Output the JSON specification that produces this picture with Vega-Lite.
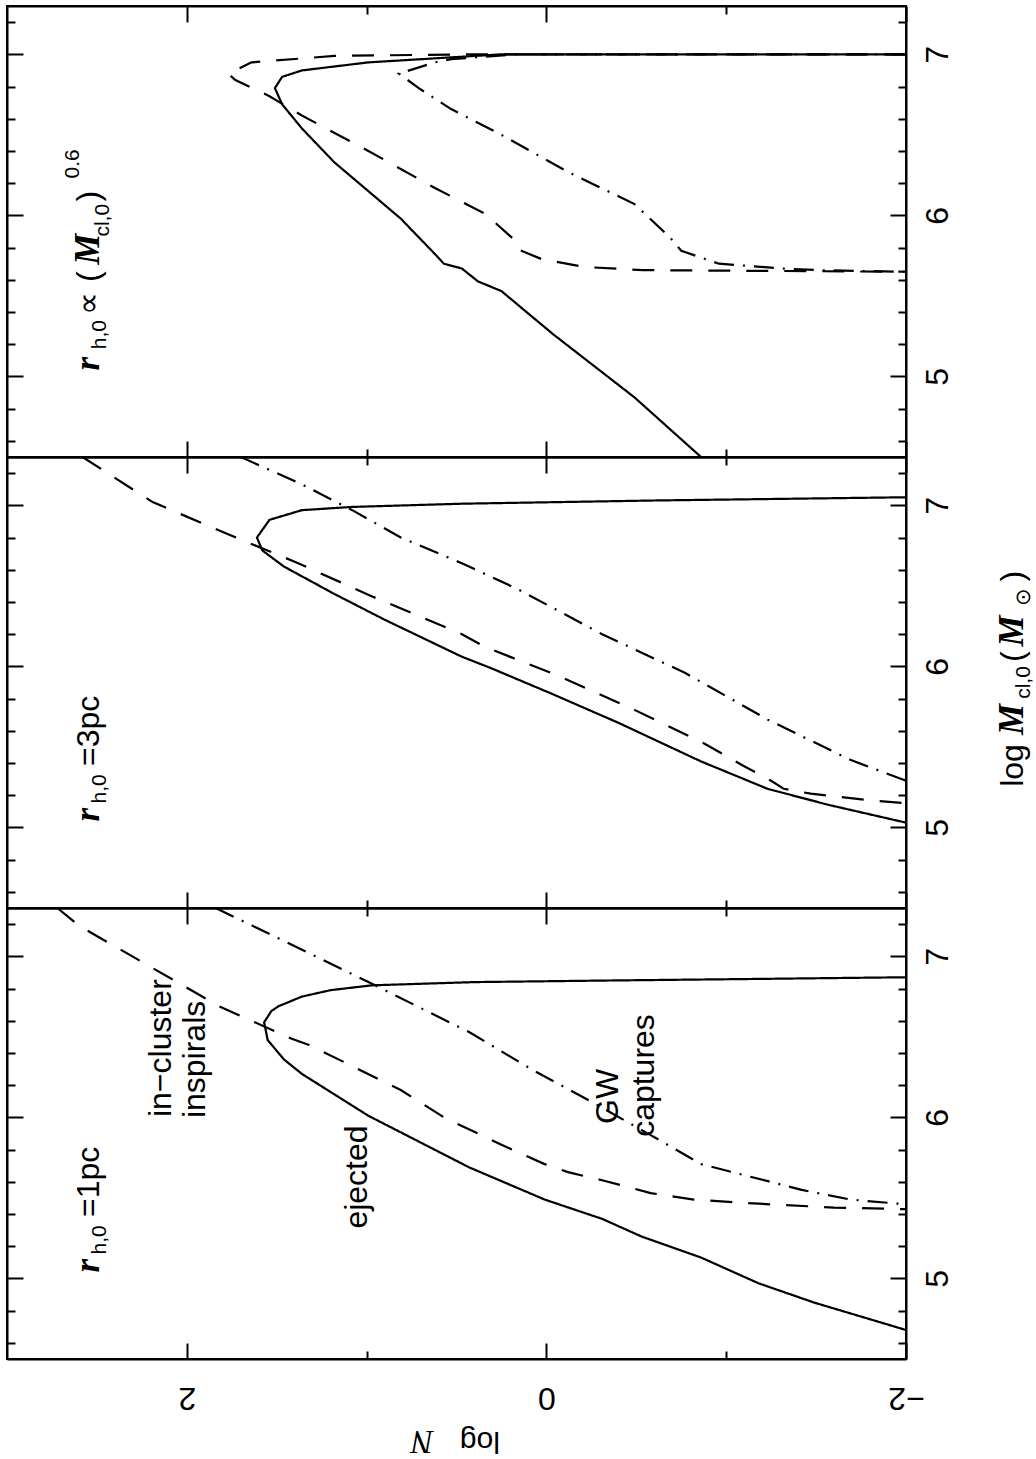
{
  "$schema": "https://vega.github.io/schema/vega-lite/v6.json",
  "background": "white",
  "padding": {"left": 5, "top": 4, "right": 0, "bottom": 0},
  "spacing": 0,
  "bounds": "flush",
  "config": {
    "view": {"stroke": "black", "strokeWidth": 2},
    "axis": {"domainColor": "black", "domainWidth": 2, "tickColor": "black", "tickWidth": 2, "grid": false, "labelColor": "black", "labelFont": "Liberation Sans", "labelFontSize": 32, "zindex": 1},
    "text": {"color": "black"}
  },
  "datasets": {
    "curves": [
      {"p":"bot","s":"solid","i":0,"N":-2,"M":4.68},{"p":"bot","s":"solid","i":1,"N":-1.49,"M":4.85},{"p":"bot","s":"solid","i":2,"N":-1.18,"M":4.97},{"p":"bot","s":"solid","i":3,"N":-0.86,"M":5.13},{"p":"bot","s":"solid","i":4,"N":-0.53,"M":5.26},{"p":"bot","s":"solid","i":5,"N":-0.31,"M":5.37},{"p":"bot","s":"solid","i":6,"N":0.01,"M":5.49},{"p":"bot","s":"solid","i":7,"N":0.43,"M":5.69},{"p":"bot","s":"solid","i":8,"N":0.99,"M":6.01},{"p":"bot","s":"solid","i":9,"N":1.36,"M":6.27},{"p":"bot","s":"solid","i":10,"N":1.46,"M":6.36},{"p":"bot","s":"solid","i":11,"N":1.55,"M":6.48},{"p":"bot","s":"solid","i":12,"N":1.57,"M":6.59},{"p":"bot","s":"solid","i":13,"N":1.53,"M":6.66},{"p":"bot","s":"solid","i":14,"N":1.49,"M":6.69},{"p":"bot","s":"solid","i":15,"N":1.36,"M":6.75},{"p":"bot","s":"solid","i":16,"N":1.2,"M":6.79},{"p":"bot","s":"solid","i":17,"N":0.97,"M":6.82},{"p":"bot","s":"solid","i":18,"N":0.4,"M":6.84},{"p":"bot","s":"solid","i":19,"N":-0.36,"M":6.85},{"p":"bot","s":"solid","i":20,"N":-1.2,"M":6.86},{"p":"bot","s":"solid","i":21,"N":-2,"M":6.87},
      {"p":"bot","s":"dashed","i":0,"N":2.72,"M":7.3},{"p":"bot","s":"dashed","i":1,"N":2.6,"M":7.19},{"p":"bot","s":"dashed","i":2,"N":2.21,"M":6.94},{"p":"bot","s":"dashed","i":3,"N":1.82,"M":6.69},{"p":"bot","s":"dashed","i":4,"N":1.42,"M":6.49},{"p":"bot","s":"dashed","i":5,"N":1.32,"M":6.45},{"p":"bot","s":"dashed","i":6,"N":0.81,"M":6.17},{"p":"bot","s":"dashed","i":7,"N":0.57,"M":6.0},{"p":"bot","s":"dashed","i":8,"N":0.25,"M":5.83},{"p":"bot","s":"dashed","i":9,"N":0.01,"M":5.71},{"p":"bot","s":"dashed","i":10,"N":-0.12,"M":5.66},{"p":"bot","s":"dashed","i":11,"N":-0.31,"M":5.61},{"p":"bot","s":"dashed","i":12,"N":-0.58,"M":5.53},{"p":"bot","s":"dashed","i":13,"N":-0.82,"M":5.49},{"p":"bot","s":"dashed","i":14,"N":-1.08,"M":5.47},{"p":"bot","s":"dashed","i":15,"N":-1.6,"M":5.44},{"p":"bot","s":"dashed","i":16,"N":-2,"M":5.43},
      {"p":"bot","s":"dashdot","i":0,"N":1.84,"M":7.3},{"p":"bot","s":"dashdot","i":1,"N":1.32,"M":7.02},{"p":"bot","s":"dashdot","i":2,"N":0.99,"M":6.84},{"p":"bot","s":"dashdot","i":3,"N":0.43,"M":6.53},{"p":"bot","s":"dashdot","i":4,"N":0.07,"M":6.29},{"p":"bot","s":"dashdot","i":5,"N":-0.23,"M":6.11},{"p":"bot","s":"dashdot","i":6,"N":-0.58,"M":5.89},{"p":"bot","s":"dashdot","i":7,"N":-0.86,"M":5.71},{"p":"bot","s":"dashdot","i":8,"N":-1.14,"M":5.63},{"p":"bot","s":"dashdot","i":9,"N":-1.42,"M":5.55},{"p":"bot","s":"dashdot","i":10,"N":-1.69,"M":5.49},{"p":"bot","s":"dashdot","i":11,"N":-2,"M":5.46},
      {"p":"mid","s":"solid","i":0,"N":-2,"M":5.03},{"p":"mid","s":"solid","i":1,"N":-1.57,"M":5.14},{"p":"mid","s":"solid","i":2,"N":-1.23,"M":5.24},{"p":"mid","s":"solid","i":3,"N":-0.86,"M":5.41},{"p":"mid","s":"solid","i":4,"N":-0.4,"M":5.65},{"p":"mid","s":"solid","i":5,"N":-0.03,"M":5.83},{"p":"mid","s":"solid","i":6,"N":0.31,"M":5.99},{"p":"mid","s":"solid","i":7,"N":0.47,"M":6.06},{"p":"mid","s":"solid","i":8,"N":0.9,"M":6.29},{"p":"mid","s":"solid","i":9,"N":1.18,"M":6.45},{"p":"mid","s":"solid","i":10,"N":1.46,"M":6.62},{"p":"mid","s":"solid","i":11,"N":1.58,"M":6.72},{"p":"mid","s":"solid","i":12,"N":1.61,"M":6.8},{"p":"mid","s":"solid","i":13,"N":1.54,"M":6.91},{"p":"mid","s":"solid","i":14,"N":1.36,"M":6.97},{"p":"mid","s":"solid","i":15,"N":1.08,"M":6.99},{"p":"mid","s":"solid","i":16,"N":0.47,"M":7.01},{"p":"mid","s":"solid","i":17,"N":-0.6,"M":7.03},{"p":"mid","s":"solid","i":18,"N":-2,"M":7.05},
      {"p":"mid","s":"dashed","i":0,"N":2.58,"M":7.3},{"p":"mid","s":"dashed","i":1,"N":2.19,"M":7.02},{"p":"mid","s":"dashed","i":2,"N":1.77,"M":6.82},{"p":"mid","s":"dashed","i":3,"N":1.4,"M":6.65},{"p":"mid","s":"dashed","i":4,"N":0.96,"M":6.43},{"p":"mid","s":"dashed","i":5,"N":0.47,"M":6.2},{"p":"mid","s":"dashed","i":6,"N":0.34,"M":6.12},{"p":"mid","s":"dashed","i":7,"N":-0.07,"M":5.94},{"p":"mid","s":"dashed","i":8,"N":-0.49,"M":5.73},{"p":"mid","s":"dashed","i":9,"N":-0.88,"M":5.52},{"p":"mid","s":"dashed","i":10,"N":-1.1,"M":5.38},{"p":"mid","s":"dashed","i":11,"N":-1.25,"M":5.29},{"p":"mid","s":"dashed","i":12,"N":-1.32,"M":5.24},{"p":"mid","s":"dashed","i":13,"N":-1.47,"M":5.21},{"p":"mid","s":"dashed","i":14,"N":-1.79,"M":5.17},{"p":"mid","s":"dashed","i":15,"N":-2,"M":5.15},
      {"p":"mid","s":"dashdot","i":0,"N":1.7,"M":7.3},{"p":"mid","s":"dashdot","i":1,"N":1.36,"M":7.13},{"p":"mid","s":"dashdot","i":2,"N":1.08,"M":6.97},{"p":"mid","s":"dashdot","i":3,"N":0.81,"M":6.8},{"p":"mid","s":"dashdot","i":4,"N":0.47,"M":6.64},{"p":"mid","s":"dashdot","i":5,"N":0.16,"M":6.48},{"p":"mid","s":"dashdot","i":6,"N":-0.31,"M":6.2},{"p":"mid","s":"dashdot","i":7,"N":-0.77,"M":5.96},{"p":"mid","s":"dashdot","i":8,"N":-1.23,"M":5.67},{"p":"mid","s":"dashdot","i":9,"N":-1.69,"M":5.42},{"p":"mid","s":"dashdot","i":10,"N":-2,"M":5.29},
      {"p":"top","s":"solid","i":0,"N":-0.86,"M":4.5},{"p":"top","s":"solid","i":1,"N":-0.49,"M":4.87},{"p":"top","s":"solid","i":2,"N":-0.04,"M":5.26},{"p":"top","s":"solid","i":3,"N":0.1,"M":5.39},{"p":"top","s":"solid","i":4,"N":0.25,"M":5.53},{"p":"top","s":"solid","i":5,"N":0.38,"M":5.59},{"p":"top","s":"solid","i":6,"N":0.47,"M":5.67},{"p":"top","s":"solid","i":7,"N":0.57,"M":5.7},{"p":"top","s":"solid","i":8,"N":0.62,"M":5.76},{"p":"top","s":"solid","i":9,"N":0.81,"M":5.98},{"p":"top","s":"solid","i":10,"N":1.18,"M":6.33},{"p":"top","s":"solid","i":11,"N":1.36,"M":6.54},{"p":"top","s":"solid","i":12,"N":1.47,"M":6.69},{"p":"top","s":"solid","i":13,"N":1.51,"M":6.79},{"p":"top","s":"solid","i":14,"N":1.47,"M":6.86},{"p":"top","s":"solid","i":15,"N":1.36,"M":6.9},{"p":"top","s":"solid","i":16,"N":0.99,"M":6.95},{"p":"top","s":"solid","i":17,"N":0.25,"M":7.0},{"p":"top","s":"solid","i":18,"N":-2,"M":7.0},
      {"p":"top","s":"dashed","i":0,"N":-2,"M":7.0},{"p":"top","s":"dashed","i":1,"N":0.43,"M":7.0},{"p":"top","s":"dashed","i":2,"N":1.18,"M":6.99},{"p":"top","s":"dashed","i":3,"N":1.64,"M":6.95},{"p":"top","s":"dashed","i":4,"N":1.77,"M":6.88},{"p":"top","s":"dashed","i":5,"N":1.73,"M":6.84},{"p":"top","s":"dashed","i":6,"N":1.54,"M":6.74},{"p":"top","s":"dashed","i":7,"N":1.36,"M":6.62},{"p":"top","s":"dashed","i":8,"N":0.99,"M":6.4},{"p":"top","s":"dashed","i":9,"N":0.62,"M":6.17},{"p":"top","s":"dashed","i":10,"N":0.34,"M":6.01},{"p":"top","s":"dashed","i":11,"N":0.19,"M":5.86},{"p":"top","s":"dashed","i":12,"N":0.16,"M":5.79},{"p":"top","s":"dashed","i":13,"N":0.03,"M":5.73},{"p":"top","s":"dashed","i":14,"N":-0.21,"M":5.68},{"p":"top","s":"dashed","i":15,"N":-0.54,"M":5.66},{"p":"top","s":"dashed","i":16,"N":-2,"M":5.65},
      {"p":"top","s":"dashdot","i":0,"N":-2,"M":7.0},{"p":"top","s":"dashdot","i":1,"N":0.16,"M":7.0},{"p":"top","s":"dashdot","i":2,"N":0.53,"M":6.97},{"p":"top","s":"dashdot","i":3,"N":0.62,"M":6.95},{"p":"top","s":"dashdot","i":4,"N":0.82,"M":6.88},{"p":"top","s":"dashdot","i":5,"N":0.71,"M":6.79},{"p":"top","s":"dashdot","i":6,"N":0.53,"M":6.66},{"p":"top","s":"dashdot","i":7,"N":0.25,"M":6.5},{"p":"top","s":"dashdot","i":8,"N":-0.12,"M":6.27},{"p":"top","s":"dashdot","i":9,"N":-0.49,"M":6.07},{"p":"top","s":"dashdot","i":10,"N":-0.69,"M":5.86},{"p":"top","s":"dashdot","i":11,"N":-0.75,"M":5.78},{"p":"top","s":"dashdot","i":12,"N":-0.96,"M":5.7},{"p":"top","s":"dashdot","i":13,"N":-1.32,"M":5.67},{"p":"top","s":"dashdot","i":14,"N":-1.51,"M":5.66},{"p":"top","s":"dashdot","i":15,"N":-2,"M":5.65}
    ],
    "words": [
      {"p":"bot","t":"ejected","N":1.0,"M":5.63},
      {"p":"bot","t":"in−cluster","N":2.09,"M":6.43},
      {"p":"bot","t":"inspirals","N":1.9,"M":6.36},
      {"p":"bot","t":"GW","N":-0.4,"M":6.13},
      {"p":"bot","t":"captures","N":-0.6,"M":6.26},
      {"p":"bot","t":"=1pc","N":2.49,"M":5.6},
      {"p":"mid","t":"=3pc","N":2.49,"M":5.6},
      {"p":"mid","t":"log","N":-2.65,"M":5.385},
      {"p":"mid","t":"(","N":-2.65,"M":6.06},
      {"p":"mid","t":")","N":-2.65,"M":6.56},
      {"p":"top","t":"∝","N":2.49,"M":5.45},
      {"p":"top","t":"(","N":2.49,"M":5.62},
      {"p":"top","t":")","N":2.49,"M":6.12}
    ],
    "symbols": [
      {"p":"bot","t":"r","N":2.49,"M":5.08},
      {"p":"mid","t":"r","N":2.49,"M":5.08},
      {"p":"mid","t":"M","N":-2.65,"M":5.67},
      {"p":"mid","t":"M","N":-2.65,"M":6.22},
      {"p":"top","t":"r","N":2.49,"M":5.08},
      {"p":"top","t":"M","N":2.49,"M":5.79}
    ],
    "subs": [
      {"p":"bot","t":"h,0","N":2.45,"M":5.24},
      {"p":"mid","t":"h,0","N":2.45,"M":5.24},
      {"p":"mid","t":"cl,0","N":-2.69,"M":5.9},
      {"p":"mid","t":"⊙","N":-2.69,"M":6.43},
      {"p":"top","t":"h,0","N":2.45,"M":5.26},
      {"p":"top","t":"cl,0","N":2.43,"M":5.97},
      {"p":"top","t":"0.6","N":2.6,"M":6.32}
    ],
    "xtitle": [
      {"p":"bot","t":"log","N":0.37,"M":3.99}
    ],
    "xtitleN": [
      {"p":"bot","t":"N","N":0.69,"M":3.99}
    ]
  },
  "vconcat": [
    {
      "width": 899, "height": 451,
      "layer": [
        {
          "data": {"name": "curves"},
          "transform": [{"filter": "datum.p === 'top'"}],
          "mark": {"type": "line", "color": "black", "strokeWidth": 2.2, "clip": true},
          "encoding": {
            "x": {"field": "N", "type": "quantitative", "scale": {"domain": [-2, 3], "reverse": true, "nice": false, "zero": false},
                  "axis": {"orient": "bottom", "values": [-2, -1, 0, 1, 2], "tickSize": {"condition": {"test": "datum.value % 2 === 0", "value": -16}, "value": -8}, "labels": false, "title": null}},
            "y": {"field": "M", "type": "quantitative", "scale": {"domain": [4.5, 7.3], "nice": false, "zero": false},
                  "axis": {"orient": "left", "values": [4.6, 4.8, 5, 5.2, 5.4, 5.6, 5.8, 6, 6.2, 6.4, 6.6, 6.8, 7, 7.2], "tickSize": {"condition": {"test": "abs(datum.value - round(datum.value)) < 0.01", "value": -16}, "value": -8}, "labels": false, "title": null}},
            "strokeDash": {"field": "s", "type": "nominal", "scale": {"domain": ["solid", "dashed", "dashdot"], "range": [[1, 0], [22, 16], [20, 9, 2, 9]]}, "legend": null},
            "order": {"field": "i", "type": "quantitative"}
          }
        },
        {
          "data": {"name": "words"},
          "transform": [{"filter": "datum.p === 'top'"}],
          "mark": {"type": "text", "angle": -90, "align": "center", "baseline": "alphabetic", "font": "Liberation Sans", "fontSize": 32},
          "encoding": {
            "x": {"field": "N", "type": "quantitative", "axis": {"orient": "top", "values": [-2, -1, 0, 1, 2], "tickSize": {"condition": {"test": "datum.value % 2 === 0", "value": -16}, "value": -8}, "labels": false, "title": null}},
            "y": {"field": "M", "type": "quantitative", "axis": {"orient": "right", "values": [4.6, 4.8, 5, 5.2, 5.4, 5.6, 5.8, 6, 6.2, 6.4, 6.6, 6.8, 7, 7.2], "tickSize": {"condition": {"test": "abs(datum.value - round(datum.value)) < 0.01", "value": -16}, "value": -8}, "labelExpr": "abs(datum.value - round(datum.value)) < 0.01 ? format(datum.value, 'd') : ''", "labelAngle": -90, "labelAlign": "center", "labelBaseline": "middle", "labelPadding": 47, "labelOverlap": false, "labelFlush": false, "title": null}},
            "text": {"field": "t"}
          }
        },
        {
          "data": {"name": "symbols"},
          "transform": [{"filter": "datum.p === 'top'"}],
          "mark": {"type": "text", "angle": -90, "align": "center", "baseline": "alphabetic", "font": "Liberation Serif", "fontStyle": "italic", "fontWeight": "bold", "fontSize": 35},
          "encoding": {"x": {"field": "N", "type": "quantitative", "axis": null}, "y": {"field": "M", "type": "quantitative", "axis": null}, "text": {"field": "t"}}
        },
        {
          "data": {"name": "subs"},
          "transform": [{"filter": "datum.p === 'top'"}],
          "mark": {"type": "text", "angle": -90, "align": "center", "baseline": "alphabetic", "font": "Liberation Sans", "fontSize": 21},
          "encoding": {"x": {"field": "N", "type": "quantitative", "axis": null}, "y": {"field": "M", "type": "quantitative", "axis": null}, "text": {"field": "t"}}
        }
      ],
      "resolve": {"axis": {"x": "independent", "y": "independent"}}
    },
    {
      "width": 899, "height": 451,
      "layer": [
        {
          "data": {"name": "curves"},
          "transform": [{"filter": "datum.p === 'mid'"}],
          "mark": {"type": "line", "color": "black", "strokeWidth": 2.2, "clip": true},
          "encoding": {
            "x": {"field": "N", "type": "quantitative", "scale": {"domain": [-2, 3], "reverse": true, "nice": false, "zero": false},
                  "axis": {"orient": "bottom", "values": [-2, -1, 0, 1, 2], "tickSize": {"condition": {"test": "datum.value % 2 === 0", "value": -16}, "value": -8}, "labels": false, "title": null}},
            "y": {"field": "M", "type": "quantitative", "scale": {"domain": [4.5, 7.3], "nice": false, "zero": false},
                  "axis": {"orient": "left", "values": [4.6, 4.8, 5, 5.2, 5.4, 5.6, 5.8, 6, 6.2, 6.4, 6.6, 6.8, 7, 7.2], "tickSize": {"condition": {"test": "abs(datum.value - round(datum.value)) < 0.01", "value": -16}, "value": -8}, "labels": false, "title": null}},
            "strokeDash": {"field": "s", "type": "nominal", "scale": {"domain": ["solid", "dashed", "dashdot"], "range": [[1, 0], [22, 16], [20, 9, 2, 9]]}, "legend": null},
            "order": {"field": "i", "type": "quantitative"}
          }
        },
        {
          "data": {"name": "words"},
          "transform": [{"filter": "datum.p === 'mid'"}],
          "mark": {"type": "text", "angle": -90, "align": "center", "baseline": "alphabetic", "font": "Liberation Sans", "fontSize": 32},
          "encoding": {
            "x": {"field": "N", "type": "quantitative", "axis": {"orient": "top", "values": [-2, -1, 0, 1, 2], "tickSize": {"condition": {"test": "datum.value % 2 === 0", "value": -16}, "value": -8}, "labels": false, "title": null}},
            "y": {"field": "M", "type": "quantitative", "axis": {"orient": "right", "values": [4.6, 4.8, 5, 5.2, 5.4, 5.6, 5.8, 6, 6.2, 6.4, 6.6, 6.8, 7, 7.2], "tickSize": {"condition": {"test": "abs(datum.value - round(datum.value)) < 0.01", "value": -16}, "value": -8}, "labelExpr": "abs(datum.value - round(datum.value)) < 0.01 ? format(datum.value, 'd') : ''", "labelAngle": -90, "labelAlign": "center", "labelBaseline": "middle", "labelPadding": 47, "labelOverlap": false, "labelFlush": false, "title": null}},
            "text": {"field": "t"}
          }
        },
        {
          "data": {"name": "symbols"},
          "transform": [{"filter": "datum.p === 'mid'"}],
          "mark": {"type": "text", "angle": -90, "align": "center", "baseline": "alphabetic", "font": "Liberation Serif", "fontStyle": "italic", "fontWeight": "bold", "fontSize": 35},
          "encoding": {"x": {"field": "N", "type": "quantitative", "axis": null}, "y": {"field": "M", "type": "quantitative", "axis": null}, "text": {"field": "t"}}
        },
        {
          "data": {"name": "subs"},
          "transform": [{"filter": "datum.p === 'mid'"}],
          "mark": {"type": "text", "angle": -90, "align": "center", "baseline": "alphabetic", "font": "Liberation Sans", "fontSize": 21},
          "encoding": {"x": {"field": "N", "type": "quantitative", "axis": null}, "y": {"field": "M", "type": "quantitative", "axis": null}, "text": {"field": "t"}}
        }
      ],
      "resolve": {"axis": {"x": "independent", "y": "independent"}}
    },
    {
      "width": 899, "height": 451,
      "layer": [
        {
          "data": {"name": "curves"},
          "transform": [{"filter": "datum.p === 'bot'"}],
          "mark": {"type": "line", "color": "black", "strokeWidth": 2.2, "clip": true},
          "encoding": {
            "x": {"field": "N", "type": "quantitative", "scale": {"domain": [-2, 3], "reverse": true, "nice": false, "zero": false},
                  "axis": {"orient": "bottom", "values": [-2, -1, 0, 1, 2], "format": "d", "tickSize": {"condition": {"test": "datum.value % 2 === 0", "value": -16}, "value": -8}, "labelExpr": "datum.value % 2 === 0 ? datum.label : ''", "labelAngle": 180, "labelAlign": "center", "labelBaseline": "middle", "labelPadding": 54, "labelOverlap": false, "labelFlush": false, "title": null}},
            "y": {"field": "M", "type": "quantitative", "scale": {"domain": [4.5, 7.3], "nice": false, "zero": false},
                  "axis": {"orient": "left", "values": [4.6, 4.8, 5, 5.2, 5.4, 5.6, 5.8, 6, 6.2, 6.4, 6.6, 6.8, 7, 7.2], "tickSize": {"condition": {"test": "abs(datum.value - round(datum.value)) < 0.01", "value": -16}, "value": -8}, "labels": false, "title": null}},
            "strokeDash": {"field": "s", "type": "nominal", "scale": {"domain": ["solid", "dashed", "dashdot"], "range": [[1, 0], [22, 16], [20, 9, 2, 9]]}, "legend": null},
            "order": {"field": "i", "type": "quantitative"}
          }
        },
        {
          "data": {"name": "words"},
          "transform": [{"filter": "datum.p === 'bot'"}],
          "mark": {"type": "text", "angle": -90, "align": "center", "baseline": "alphabetic", "font": "Liberation Sans", "fontSize": 32},
          "encoding": {
            "x": {"field": "N", "type": "quantitative", "axis": {"orient": "top", "values": [-2, -1, 0, 1, 2], "tickSize": {"condition": {"test": "datum.value % 2 === 0", "value": -16}, "value": -8}, "labels": false, "title": null}},
            "y": {"field": "M", "type": "quantitative", "axis": {"orient": "right", "values": [4.6, 4.8, 5, 5.2, 5.4, 5.6, 5.8, 6, 6.2, 6.4, 6.6, 6.8, 7, 7.2], "tickSize": {"condition": {"test": "abs(datum.value - round(datum.value)) < 0.01", "value": -16}, "value": -8}, "labelExpr": "abs(datum.value - round(datum.value)) < 0.01 ? format(datum.value, 'd') : ''", "labelAngle": -90, "labelAlign": "center", "labelBaseline": "middle", "labelPadding": 47, "labelOverlap": false, "labelFlush": false, "title": null}},
            "text": {"field": "t"}
          }
        },
        {
          "data": {"name": "symbols"},
          "transform": [{"filter": "datum.p === 'bot'"}],
          "mark": {"type": "text", "angle": -90, "align": "center", "baseline": "alphabetic", "font": "Liberation Serif", "fontStyle": "italic", "fontWeight": "bold", "fontSize": 35},
          "encoding": {"x": {"field": "N", "type": "quantitative", "axis": null}, "y": {"field": "M", "type": "quantitative", "axis": null}, "text": {"field": "t"}}
        },
        {
          "data": {"name": "subs"},
          "transform": [{"filter": "datum.p === 'bot'"}],
          "mark": {"type": "text", "angle": -90, "align": "center", "baseline": "alphabetic", "font": "Liberation Sans", "fontSize": 21},
          "encoding": {"x": {"field": "N", "type": "quantitative", "axis": null}, "y": {"field": "M", "type": "quantitative", "axis": null}, "text": {"field": "t"}}
        },
        {
          "data": {"name": "xtitle"},
          "mark": {"type": "text", "angle": 180, "align": "center", "baseline": "middle", "font": "Liberation Sans", "fontSize": 30},
          "encoding": {"x": {"field": "N", "type": "quantitative", "axis": null}, "y": {"field": "M", "type": "quantitative", "axis": null}, "text": {"field": "t"}}
        },
        {
          "data": {"name": "xtitleN"},
          "mark": {"type": "text", "angle": 180, "align": "center", "baseline": "middle", "font": "Liberation Serif", "fontStyle": "italic", "fontSize": 34},
          "encoding": {"x": {"field": "N", "type": "quantitative", "axis": null}, "y": {"field": "M", "type": "quantitative", "axis": null}, "text": {"field": "t"}}
        }
      ],
      "resolve": {"axis": {"x": "independent", "y": "independent"}}
    }
  ]
}
